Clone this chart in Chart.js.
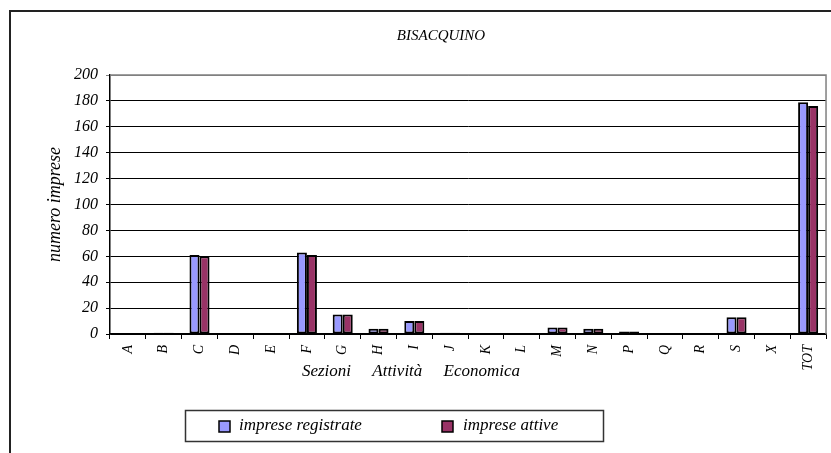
<!DOCTYPE html>
<html><head><meta charset="utf-8">
<script src="https://cdn.jsdelivr.net/npm/chart.js@4.4.1/dist/chart.umd.min.js"></script>
<style>html,body{margin:0;padding:0;background:#fff;}#wrap{width:831px;height:453px;position:relative;}</style>
</head><body><div id="wrap"><canvas id="c" width="831" height="453"></canvas></div>
<script>
const categories = ['A','B','C','D','E','F','G','H','I','J','K','L','M','N','P','Q','R','S','X','TOT'];
const registrate = [0,1,61,0,0,63,15,4,10,1,0,0,5,4,2,0,0,13,0,179];
const attive     = [0,1,60,0,0,61,15,4,10,1,0,0,5,4,2,0,0,13,0,176];
const yTicks = [0,20,40,60,80,100,120,140,160,180,200];
const chartTitle = 'BISACQUINO';
const xTitle = 'Sezioni     Attività     Economica';
const yTitle = 'numero imprese';
const seriesNames = ['imprese registrate','imprese attive'];
const colors = ['#9999FF','#993366'];
const FONT = '"Liberation Serif", "Times New Roman", serif';

const deco = {
  id:'deco',
  afterDraw(chart){
    const ctx = chart.ctx, a = chart.chartArea;
    ctx.save();
    // outer frame
    ctx.strokeStyle = '#222'; ctx.lineWidth = 2;
    ctx.strokeRect(10, 11, 900, 500);
    // plot frame top/right
    ctx.strokeStyle = '#808080'; ctx.lineWidth = 1.5;
    ctx.beginPath();
    ctx.moveTo(a.left, a.top); ctx.lineTo(a.right, a.top); ctx.lineTo(a.right, a.bottom);
    ctx.stroke();
    ctx.fillStyle = '#000';
    // title
    ctx.font = 'italic 15px ' + FONT;
    ctx.textAlign = 'center'; ctx.textBaseline = 'middle';
    ctx.fillText(chartTitle, 441, 36);
    // x title
    ctx.font = 'italic 17px ' + FONT;
    ctx.fillText(xTitle, 411, 372);
    // legend
    ctx.strokeStyle = '#333'; ctx.lineWidth = 1.5;
    ctx.strokeRect(185.5, 410.5, 418, 31);
    const items = [[219, 239], [442, 463]];
    ctx.font = 'italic 17px ' + FONT;
    ctx.textAlign = 'left';
    chart.data.datasets.forEach((ds, i) => {
      const [mx, tx] = items[i];
      ctx.fillStyle = ds.backgroundColor;
      ctx.fillRect(mx, 421, 11, 11);
      ctx.strokeStyle = '#000'; ctx.lineWidth = 1.5;
      ctx.strokeRect(mx, 421, 11, 11);
      ctx.fillStyle = '#000';
      ctx.fillText(ds.label, tx, 426);
    });
    ctx.restore();
  }
};

new Chart(document.getElementById('c'), {
  type: 'bar',
  data: {
    labels: categories,
    datasets: [
      {label: seriesNames[0], data: registrate, backgroundColor: colors[0], borderColor:'#000', borderWidth:2, borderSkipped:false},
      {label: seriesNames[1], data: attive, backgroundColor: colors[1], borderColor:'#000', borderWidth:2, borderSkipped:false}
    ]
  },
  options: {
    responsive:false, animation:false, devicePixelRatio:1,
    layout:{padding:{left:44, top:75, right:3, bottom:0}},
    datasets:{bar:{categoryPercentage:0.56, barPercentage:1}},
    plugins:{legend:{display:false}, title:{display:false}, tooltip:{enabled:false}},
    scales:{
      x:{
        offset:true,
        grid:{display:true, drawOnChartArea:false, drawTicks:true, tickLength:5, color:'#000', offset:true},
        border:{display:true, color:'#000', width:1.5},
        ticks:{maxRotation:90, minRotation:90, autoSkip:false, padding:6, color:'#000', font:{family:FONT, size:14, style:'italic'}},
        afterFit(s){ s.height = 119; }
      },
      y:{
        min:0, max:200,
        afterBuildTicks(s){ s.ticks = yTicks.map(v => ({value:v})); },
        grid:{color:(c)=> c.tick && c.tick.value===200 ? '#808080' : '#000', lineWidth:1, tickLength:4},
        border:{display:true, color:'#000', width:1.5},
        ticks:{padding:8, color:'#000', font:{family:FONT, size:16, style:'italic'}},
        title:{display:true, text:yTitle, color:'#000', padding:{top:0,bottom:0}, font:{family:FONT, size:18, style:'italic'}},
        afterFit(s){ s.width = 66; }
      }
    }
  },
  plugins:[deco]
});
</script></body></html>
